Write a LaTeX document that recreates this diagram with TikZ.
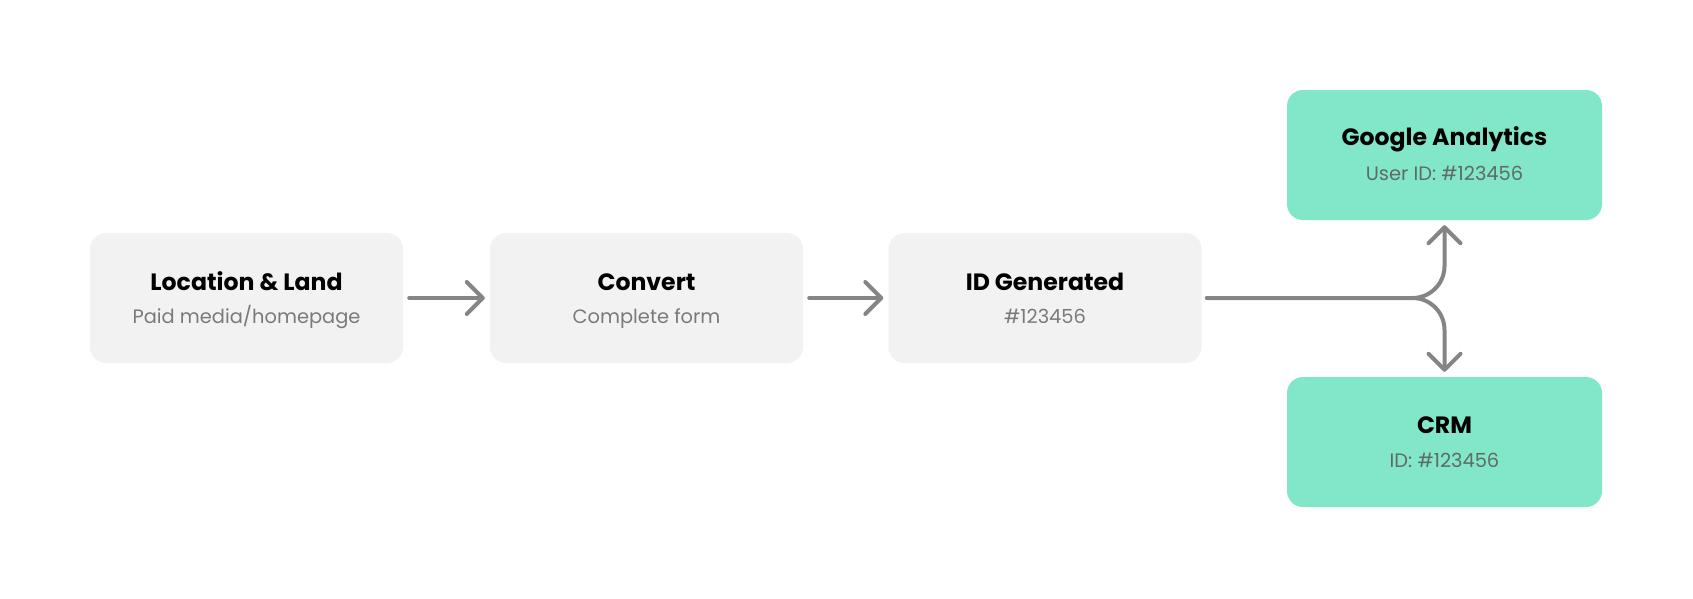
\documentclass[tikz,border=0pt]{standalone}
\usepackage{fontspec}
\setmainfont{Poppins}
\usetikzlibrary{arrows.meta}
\definecolor{boxgray}{HTML}{F2F2F2}
\definecolor{boxgreen}{HTML}{82E6C9}
\definecolor{linegray}{HTML}{858585}
\definecolor{subgray}{HTML}{7A7A7A}
\definecolor{subdark}{HTML}{5E6B66}
\tikzset{
  stepbox/.style={rounded corners=16pt, minimum width=313pt, minimum height=130pt, inner sep=0pt, draw=none},
  graybox/.style={stepbox, fill=boxgray},
  greenbox/.style={stepbox, fill=boxgreen, minimum width=315pt},
  titletext/.style={anchor=base, font=\fontsize{23.6}{26}\selectfont\bfseries, text=black, inner sep=0pt},
  subtext/.style={anchor=base, font=\fontsize{19.4}{22}\selectfont, text=subgray, inner sep=0pt},
  flow/.style={draw=linegray, line width=4pt, line cap=round, -{Straight Barb[length=16pt,width=32pt,line width=4pt,round]}}
}
\begin{document}
\begin{tikzpicture}[x=1pt,y=-1pt]
\useasboundingbox (0,0) rectangle (1693,598);
\node[graybox] (b1) at (246.5,298) {};
\node[graybox] (b2) at (646.5,298) {};
\node[graybox] (b3) at (1045,298) {};
\node[greenbox] (ga) at (1444.5,155) {};
\node[greenbox] (crm) at (1444.5,442) {};
\node[titletext] (t1) at ([yshift=8pt]b1.center) {Location \& Land};
\node[subtext] (s1) at ([yshift=-25pt]b1.center) {Paid media/homepage};
\node[titletext] (t2) at ([yshift=8pt]b2.center) {Convert};
\node[subtext] (s2) at ([yshift=-25pt]b2.center) {Complete form};
\node[titletext] (t3) at ([yshift=8pt]b3.center) {ID Generated};
\node[subtext] (s3) at ([yshift=-25pt]b3.center) {\#123456};
\node[titletext] (t4) at ([yshift=10pt]ga.center) {Google Analytics};
\node[subtext, text=subdark] (s4) at ([yshift=-25pt]ga.center) {User ID: \#123456};
\node[titletext] (t5) at ([yshift=9pt]crm.center) {CRM};
\node[subtext, text=subdark] (s5) at ([yshift=-25pt]crm.center) {ID: \#123456};
\draw[flow, shorten <=6pt, shorten >=5pt] (b1.east) -- (b2.west);
\draw[flow, shorten <=6pt, shorten >=5pt] (b2.east) -- (b3.west);
\coordinate (fork) at (ga.south |- b3.east);
\draw[flow, shorten >=5pt] ([xshift=5pt]b3.east) -- ([xshift=-32pt]fork) to[out=0,in=-90] ([yshift=32pt]fork) -- (ga.south);
\draw[flow, shorten >=5pt] ([xshift=-32pt]fork) to[out=0,in=90] ([yshift=-32pt]fork) -- (crm.north);
\end{tikzpicture}
\end{document}
